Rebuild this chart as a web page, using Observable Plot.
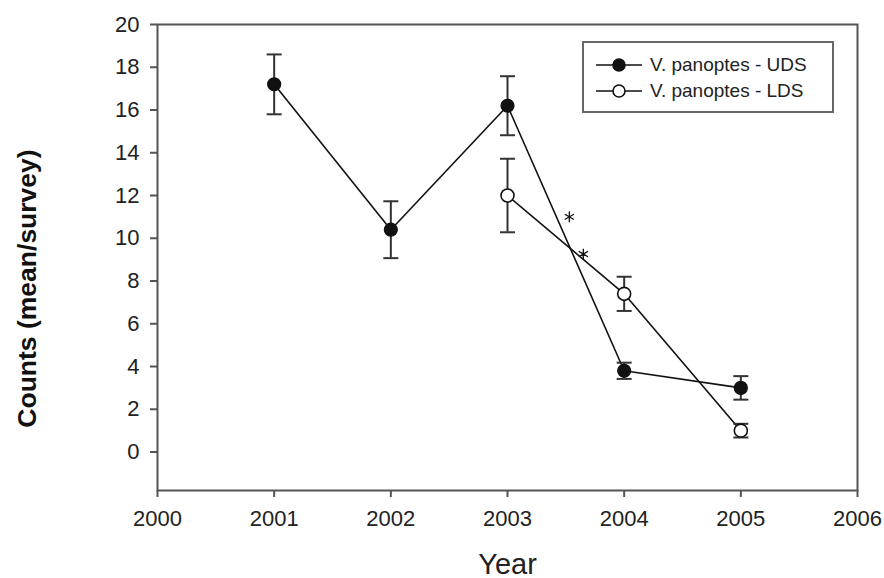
<!DOCTYPE html>
<html>
<head>
<meta charset="utf-8">
<script src="https://cdn.jsdelivr.net/npm/d3@7"></script>
<script src="https://cdn.jsdelivr.net/npm/@observablehq/plot@0.6"></script>
<style>
  html, body { margin: 0; padding: 0; background: #fff; }
  #wrap { position: relative; width: 884px; height: 578px; font-family: "Liberation Sans", Arial, sans-serif; }
  #legend { position: absolute; left: 582px; top: 41px; width: 248px; height: 68px; border: 2px solid #666; background: #fff; box-sizing: content-box; }
  .row { position: absolute; left: 12px; display: flex; align-items: center; font-size: 19px; color: #222; }
  .row svg { margin-right: 8px; }
</style>
</head>
<body>
<div id="wrap"></div>
<script>
// ---- data ----
const udsYears = [2001, 2002, 2003, 2004, 2005];
const udsMean  = [17.2, 10.4, 16.2, 3.8, 3.0];
const udsErr   = [1.4, 1.33, 1.38, 0.38, 0.55];

const ldsYears = [2003, 2004, 2005];
const ldsMean  = [12.0, 7.4, 1.0];
const ldsErr   = [1.72, 0.8, 0.32];

const starX = [2003.53, 2003.65];
const starY = [11.0, 9.26];

const seriesNames = ["V. panoptes - UDS", "V. panoptes - LDS"];
const xTicks = [2000, 2001, 2002, 2003, 2004, 2005, 2006];
const yTicks = [0, 2, 4, 6, 8, 10, 12, 14, 16, 18, 20];

// ---- build tables ----
const uds = udsYears.map((x, i) => ({x, y: udsMean[i], lo: udsMean[i] - udsErr[i], hi: udsMean[i] + udsErr[i]}));
const lds = ldsYears.map((x, i) => ({x, y: ldsMean[i], lo: ldsMean[i] - ldsErr[i], hi: ldsMean[i] + ldsErr[i]}));
const stars = starX.map((x, i) => ({x, y: starY[i]}));
const caps = [...uds, ...lds].flatMap(d => [{x: d.x, y: d.lo}, {x: d.x, y: d.hi}]);

const capSymbol = {
  draw(ctx, size) {
    const w = Math.sqrt(size / Math.PI);
    ctx.moveTo(-w, 0);
    ctx.lineTo(w, 0);
  }
};

const ink = "#111";
const axisCol = "#555";

const chart = Plot.plot({
  width: 884,
  height: 578,
  marginLeft: 157,
  marginRight: 27,
  marginTop: 24,
  marginBottom: 88,
  style: {fontFamily: "'Liberation Sans', Arial, sans-serif", color: "#222", background: "#fff"},
  x: {domain: [2000, 2006]},
  y: {domain: [-1.8, 20]},
  marks: [
    Plot.axisX({ticks: xTicks, tickFormat: d => String(d), tickSize: 7, tickPadding: 13, fontSize: 22, stroke: axisCol, strokeWidth: 2,
      label: "Year", labelAnchor: "center", labelArrow: "none", labelOffset: 83}),
    Plot.axisY({ticks: yTicks, tickSize: 7, tickPadding: 11, fontSize: 22, stroke: axisCol, strokeWidth: 2,
      label: "Counts (mean/survey)", labelAnchor: "center", labelArrow: "none", labelOffset: 140}),
    Plot.frame({stroke: axisCol, strokeWidth: 2}),
    Plot.line(uds, {x: "x", y: "y", stroke: ink, strokeWidth: 1.6}),
    Plot.line(lds, {x: "x", y: "y", stroke: ink, strokeWidth: 1.6}),
    Plot.ruleX([...uds, ...lds], {x: "x", y1: "lo", y2: "hi", stroke: "#333", strokeWidth: 2}),
    Plot.dot(caps, {x: "x", y: "y", symbol: capSymbol, r: 7.5, fill: "none", stroke: "#333", strokeWidth: 2}),
    Plot.dot(uds, {x: "x", y: "y", r: 6.5, fill: ink, stroke: ink, strokeWidth: 1.2}),
    Plot.dot(lds, {x: "x", y: "y", r: 6.5, fill: "#fff", stroke: ink, strokeWidth: 1.6}),
    Plot.dot(stars, {x: "x", y: "y", symbol: "asterisk", r: 5, stroke: ink, strokeWidth: 1.3})
  ]
});

// tick label sizing
d3.select(chart).selectAll('g[aria-label="x-axis tick label"], g[aria-label="y-axis tick label"]')
  .style("font-size", "22px").style("fill", "#222");

// axis label styling
d3.select(chart).selectAll('g[aria-label="y-axis label"] text')
  .style("font-size", "26.5px").style("font-weight", "bold").style("fill", "#111")
  .attr("transform", function() { return (this.getAttribute("transform") || "") + " translate(-31,0)"; });
d3.select(chart).selectAll('g[aria-label="x-axis label"] text')
  .style("font-size", "29px").style("fill", "#222");

const wrap = document.getElementById("wrap");
wrap.appendChild(chart);

// legend
const legend = document.createElement("div");
legend.id = "legend";
seriesNames.forEach((name, i) => {
  const row = document.createElement("div");
  row.className = "row";
  row.style.top = (i === 0 ? 11 : 37) + "px";
  const filled = i === 0;
  row.innerHTML = `<svg width="46" height="16"><line x1="0" y1="8" x2="46" y2="8" stroke="${ink}" stroke-width="1.6"/><circle cx="23" cy="8" r="6" fill="${filled ? ink : "#fff"}" stroke="${ink}" stroke-width="1.6"/></svg><span>${name}</span>`;
  legend.appendChild(row);
});
wrap.appendChild(legend);
</script>
</body>
</html>
